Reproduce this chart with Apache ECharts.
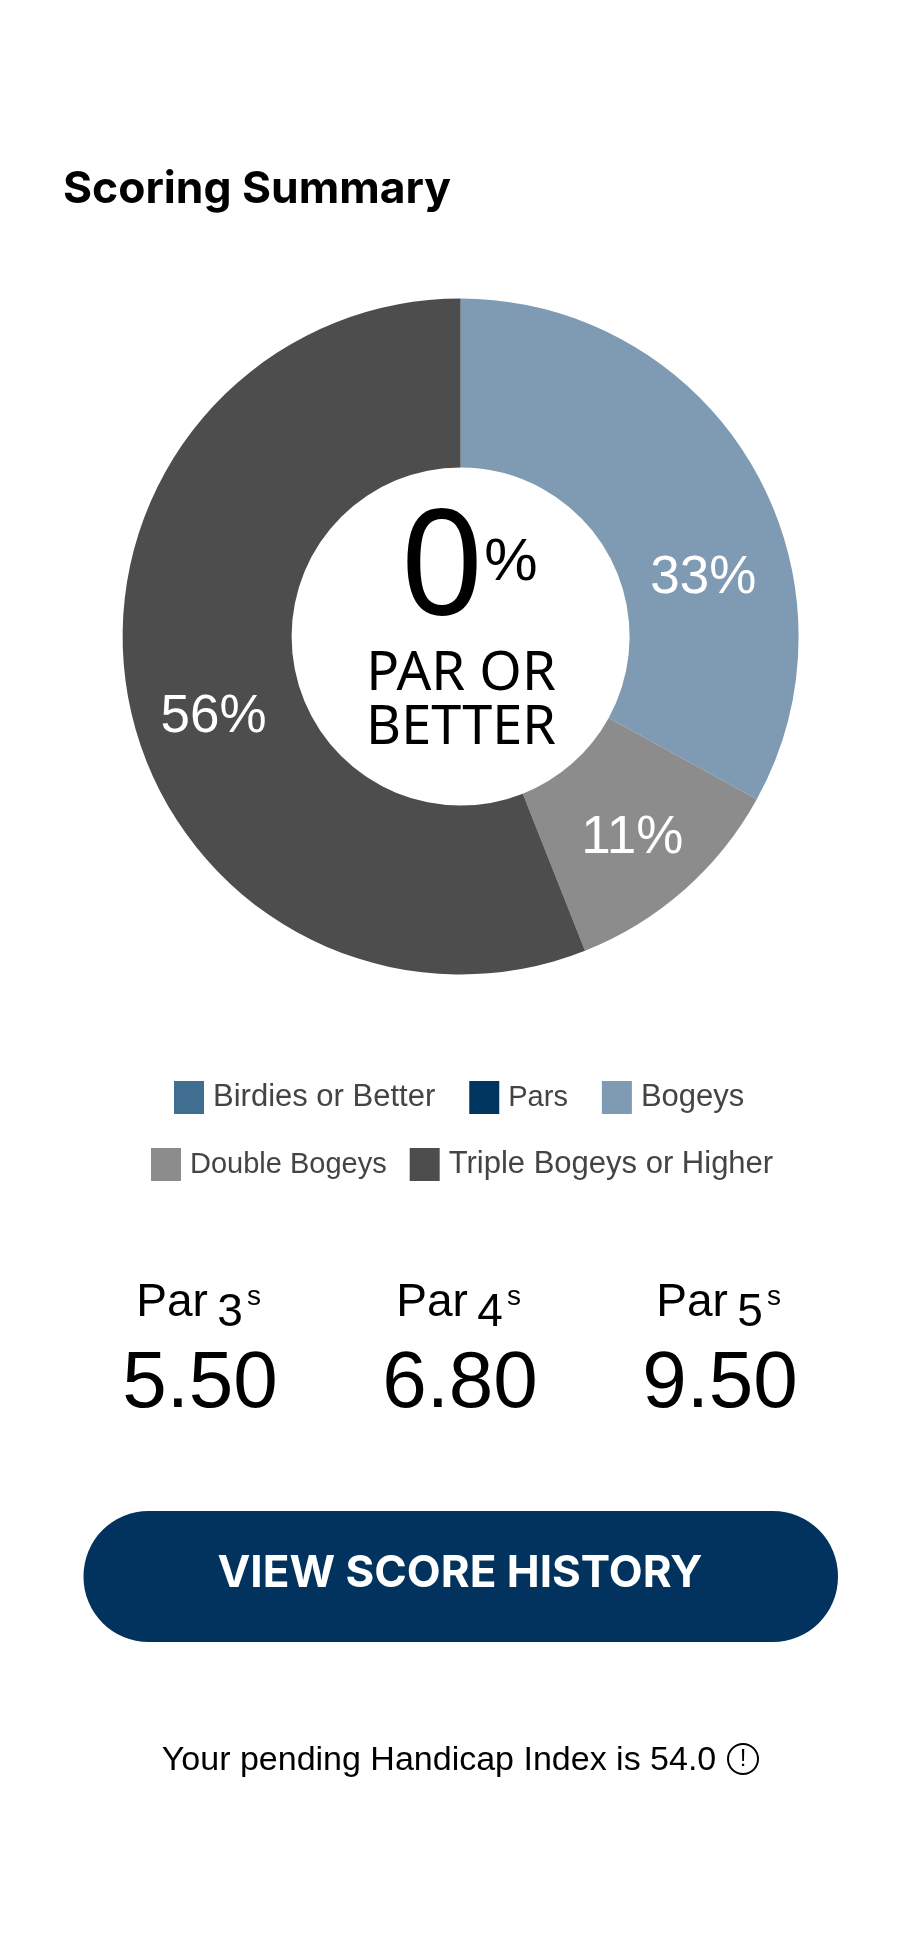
<!DOCTYPE html>
<html><head><meta charset="utf-8">
<style>html,body{margin:0;padding:0;background:#fff}#c{width:900px;height:1949px}</style>
<script src="https://cdn.jsdelivr.net/npm/echarts@6/dist/echarts.min.js"></script>
</head><body><div id="c"></div>
<script>
const categories = ['Birdies or Better','Pars','Bogeys','Double Bogeys','Triple Bogeys or Higher'];
const shares = [0,0,33,11,56];
const colours = ['#406E91','#003560','#7F9BB3','#8B8C8B','#4D4D4D'];
const legendRow1 = ['Birdies or Better','Pars','Bogeys'];
const legendRow2 = ['Double Bogeys','Triple Bogeys or Higher'];
const parLabels = ['3','4','5'];
const parAverages = ['5.50','6.80','9.50'];
const parCentres = [200,460,720];
const labelOffsets = [[0,0],[0,0],[22,72],[2,9],[5,33]];
const legendFontSizes = {'Birdies or Better':31,'Pars':29,'Bogeys':31,'Double Bogeys':29,'Triple Bogeys or Higher':31};

const SANS='"Noto Sans",sans-serif', HELV='"Liberation Sans",Arial,sans-serif', UI='Inter,sans-serif';
const txt=(x,y,text,size,font,extra={})=>({type:'text',x,y,silent:true,style:Object.assign({text,fontSize:size,fontFamily:font,fill:'#000',textAlign:'center',textVerticalAlign:'middle'},extra)});

const elements=[
  txt(63,190,'Scoring Summary',44.4,UI,{fontWeight:'bold',textAlign:'left'}),
  txt(442,573,'0',146,SANS),
  txt(511,563,'%',60,HELV),
  txt(461,674,'PAR OR',54.5,SANS),
  txt(461,729,'BETTER',54,SANS),
  {type:'rect',silent:true,shape:{x:83.5,y:1511,width:754.5,height:131,r:65},style:{fill:'#02335E'}},
  txt(460,1574,'VIEW SCORE HISTORY',44,UI,{fontWeight:'bold',fill:'#fff'}),
  txt(439,1761,'Your pending Handicap Index is 54.0',34,HELV),
  {type:'circle',silent:true,shape:{cx:743,cy:1759,r:15},style:{fill:'none',stroke:'#000',lineWidth:2}},
  txt(743,1759,'!',24,HELV)
];
parCentres.forEach((cx,i)=>{
  elements.push(txt(cx-28,1303,'Par',46,HELV));
  elements.push(txt(cx+30,1313,parLabels[i],46,HELV));
  elements.push(txt(cx+54,1297,'s',28,HELV));
  elements.push(txt(cx,1385,parAverages[i],80,HELV));
});

const legendBase={selectedMode:false,orient:'horizontal',itemWidth:30,itemHeight:33,icon:'rect',
  textStyle:{fontFamily:HELV,color:'#444',padding:[0,0,0,4]}};
const legendItems=names=>names.map(name=>({name,textStyle:{fontSize:legendFontSizes[name]}}));

echarts.init(document.getElementById('c'),null,{renderer:'canvas'}).setOption({
  animation:false,
  backgroundColor:'#fff',
  legend:[
    Object.assign({},legendBase,{data:legendItems(legendRow1),left:169,top:1076,itemGap:34}),
    Object.assign({},legendBase,{data:legendItems(legendRow2),left:146,top:1143,itemGap:23})
  ],
  series:[{
    type:'pie',center:[460.6,636.5],radius:[169,338],startAngle:90,clockwise:true,
    silent:true,avoidLabelOverlap:false,
    labelLine:{show:false},
    label:{show:true,position:'inside',color:'#fff',fontSize:53,fontFamily:HELV,formatter:p=>p.value+'%'},
    data:categories.map((name,i)=>({
      name,value:shares[i],
      itemStyle:{color:colours[i]},
      label:{show:shares[i]>0,offset:labelOffsets[i]}
    }))
  }],
  graphic:{elements}
});
</script></body></html>
